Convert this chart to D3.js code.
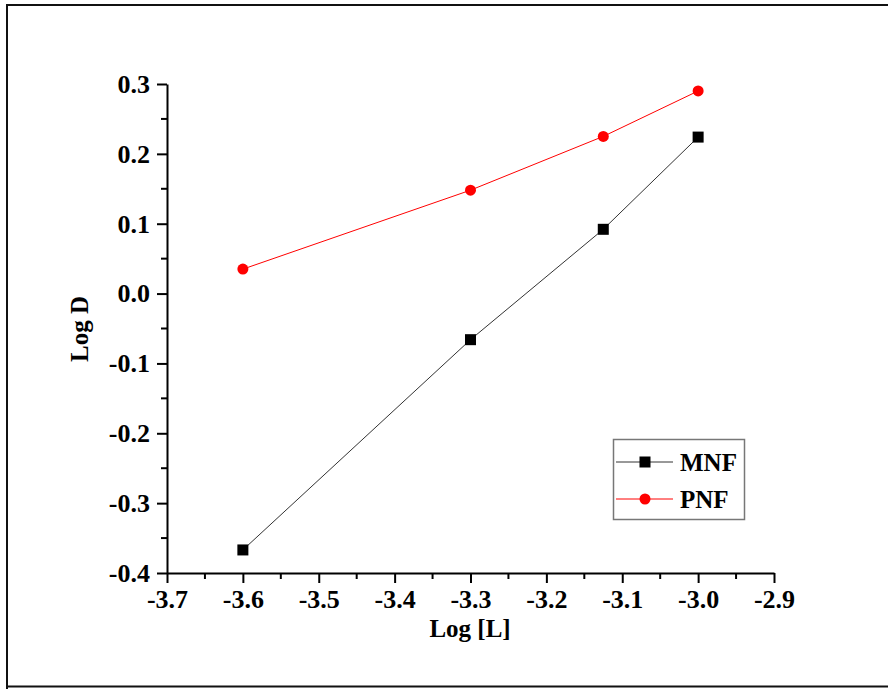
<!DOCTYPE html>
<html>
<head>
<meta charset="utf-8">
<script src="https://cdn.jsdelivr.net/npm/d3@7"></script>
<style>
  body { margin: 0; background: #fff; }
  text { font-family: "Liberation Serif", "Times New Roman", serif; font-weight: bold; }
</style>
</head>
<body>
<svg width="888" height="689"></svg>
<script>
// data
const logL = [-3.6, -3.3, -3.125, -3.0];
const mnf = [-0.367, -0.066, 0.092, 0.224];
const pnf = [0.035, 0.148, 0.225, 0.290];
const xTicks = [-3.7, -3.6, -3.5, -3.4, -3.3, -3.2, -3.1, -3.0, -2.9];
const yTicks = [-0.4, -0.3, -0.2, -0.1, 0.0, 0.1, 0.2, 0.3];

const svg = d3.select('svg');

// outer frame
svg.append('path')
  .attr('d', 'M7,700 V5 H900 M7,686.5 H900')
  .attr('fill', 'none')
  .attr('stroke', '#111')
  .attr('stroke-width', 2);

const x = d3.scaleLinear().domain([-3.7, -2.9]).range([167, 774]);
const y = d3.scaleLinear().domain([-0.4, 0.3]).range([573, 84]);

// minor ticks
const xMinor = d3.range(-3.65, -2.9, 0.1);
const yMinor = d3.range(-0.35, 0.3, 0.1);

const gx = svg.append('g').attr('transform', 'translate(0,573)');
gx.call(d3.axisBottom(x).tickValues(xTicks).tickFormat(d3.format('.1f')).tickSize(10).tickPadding(7).tickSizeOuter(0));
gx.selectAll('.minor').data(xMinor).enter().append('line')
  .attr('x1', d => x(d)).attr('x2', d => x(d))
  .attr('y1', 0).attr('y2', 6)
  .attr('stroke', '#000').attr('stroke-width', 2);

const gy = svg.append('g').attr('transform', 'translate(167,0)');
gy.call(d3.axisLeft(y).tickValues(yTicks).tickFormat(d3.format('.1f')).tickSize(10).tickPadding(7).tickSizeOuter(0));
gy.selectAll('.minor').data(yMinor).enter().append('line')
  .attr('y1', d => y(d)).attr('y2', d => y(d))
  .attr('x1', 0).attr('x2', -6)
  .attr('stroke', '#000').attr('stroke-width', 2);

svg.selectAll('.domain, .tick line').attr('stroke', '#000').attr('stroke-width', 2);
svg.selectAll('.tick text').attr('fill', '#000')
  .style('font-size', '26px')
  .style('font-family', '"Liberation Serif", serif').style('font-weight', 'bold')
  .text(function() { return d3.select(this).text().replace('\u2212', '-'); });

// axis titles
svg.append('text').attr('x', 470).attr('y', 637).attr('text-anchor', 'middle')
  .style('font-size', '25px').text('Log [L]');
svg.append('text').attr('transform', 'translate(88,329) rotate(-90)').attr('text-anchor', 'middle')
  .style('font-size', '25px').text('Log D');

// series
const line = d3.line().x((d, i) => x(logL[i])).y(d => y(d));

svg.append('path').datum(mnf).attr('d', line)
  .attr('fill', 'none').attr('stroke', '#333').attr('stroke-width', 1);
svg.append('path').datum(pnf).attr('d', line)
  .attr('fill', 'none').attr('stroke', '#f00').attr('stroke-width', 1);

svg.selectAll('.sq').data(mnf).enter().append('rect')
  .attr('x', (d, i) => x(logL[i]) - 5.5).attr('y', d => y(d) - 5.5)
  .attr('width', 11).attr('height', 11).attr('fill', '#000');
svg.selectAll('.ci').data(pnf).enter().append('circle')
  .attr('cx', (d, i) => x(logL[i])).attr('cy', d => y(d))
  .attr('r', 5.5).attr('fill', '#f00');

// legend
const lg = svg.append('g');
lg.append('rect').attr('x', 613.5).attr('y', 439.5).attr('width', 131).attr('height', 80)
  .attr('fill', '#fff').attr('stroke', '#777').attr('stroke-width', 1.5);
lg.append('line').attr('x1', 616).attr('x2', 673).attr('y1', 462).attr('y2', 462)
  .attr('stroke', '#333').attr('stroke-width', 1);
lg.append('rect').attr('x', 645 - 5.5).attr('y', 462 - 5.5).attr('width', 11).attr('height', 11).attr('fill', '#000');
lg.append('line').attr('x1', 616).attr('x2', 673).attr('y1', 499).attr('y2', 499)
  .attr('stroke', '#f00').attr('stroke-width', 1);
lg.append('circle').attr('cx', 645).attr('cy', 499).attr('r', 5.5).attr('fill', '#f00');
lg.append('text').attr('x', 680).attr('y', 471).style('font-size', '25px').text('MNF');
lg.append('text').attr('x', 680).attr('y', 508).style('font-size', '25px').text('PNF');
</script>
</body>
</html>
